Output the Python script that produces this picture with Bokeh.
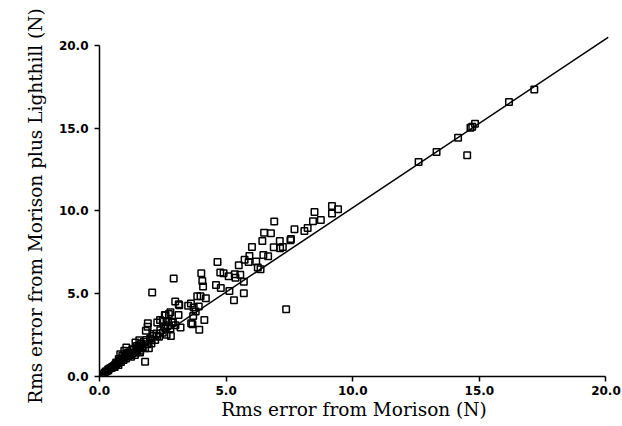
from bokeh.plotting import figure
from bokeh.models import Range1d, FixedTicker, ColumnDataSource
from bokeh.embed import file_html
from bokeh.resources import INLINE

# Rms error from Morison (N)
morison = [17.17, 16.17, 14.83, 14.72, 14.65, 14.16, 13.31, 12.60, 14.52,
           9.18, 9.42, 9.18, 8.49, 8.43, 8.74, 8.22, 8.09, 7.70, 6.90, 6.50,
           6.77, 6.43, 7.12, 7.56, 7.54, 7.24, 7.13, 6.88, 6.66, 6.47, 6.02,
           5.92, 5.73, 5.89, 6.19, 6.25, 6.36, 5.50, 4.66, 4.77, 4.90, 5.10,
           5.34, 5.56, 5.37, 5.70, 5.70, 5.13, 5.31, 4.60, 4.79, 4.02, 4.06,
           4.09, 3.86, 3.99, 4.20, 4.14, 3.94, 7.37, 2.93, 2.08, 2.99, 3.15,
           3.61, 3.50, 3.72, 3.92, 3.80, 3.70, 3.62, 3.67, 3.12, 3.20, 2.80,
           2.61, 2.50, 2.39, 2.28, 2.71, 2.90, 2.82, 2.65, 1.91, 1.90, 1.83,
           2.14, 2.27, 2.05, 1.95, 1.80, 1.70, 1.61, 1.57, 1.42, 1.48, 1.29,
           1.13, 0.98, 0.90, 0.76, 0.66, 0.58, 0.47, 0.31, 0.16, 1.61, 1.45,
           1.21, 1.06, 0.82, 0.66, 0.50, 0.35,
           0.10, 0.20, 0.25, 0.35, 0.42, 0.50, 0.55, 0.60, 0.62, 0.70, 0.75,
           0.80, 0.85, 0.90, 0.95, 1.00, 1.05, 1.10, 1.15, 1.20, 1.25, 1.30,
           1.35, 1.40, 1.45, 1.50, 1.55, 1.60, 1.65, 1.70, 1.75, 1.80, 1.85,
           1.90, 2.00, 2.05, 2.10, 2.20, 2.25, 2.35, 2.40, 2.50, 2.55, 2.60,
           2.70, 2.80, 2.85, 3.00, 2.58, 2.74, 3.13]
# Rms error from Morison plus Lighthill (N)
lighthill = [17.34, 16.58, 15.27, 15.09, 15.03, 14.43, 13.56, 12.96, 13.36,
             10.30, 10.10, 9.84, 9.94, 9.38, 9.46, 8.97, 8.79, 8.89, 9.36, 8.69,
             8.65, 8.19, 8.19, 8.31, 8.23, 7.83, 7.75, 7.81, 7.26, 7.34, 7.83,
             7.28, 7.06, 6.92, 6.94, 6.58, 6.48, 6.72, 6.92, 6.28, 6.24, 6.06,
             6.18, 6.14, 5.96, 5.73, 5.03, 5.17, 4.61, 5.53, 5.35, 6.24, 5.77,
             5.43, 4.85, 4.85, 4.73, 3.42, 2.82, 4.06, 5.92, 5.07, 4.53, 4.31,
             4.41, 4.27, 4.17, 4.23, 3.92, 3.66, 3.22, 3.16, 3.72, 2.96, 3.88,
             3.70, 3.36, 3.42, 3.26, 3.34, 3.26, 2.45, 2.52, 3.22, 3.00, 2.76,
             2.56, 2.45, 2.19, 1.71, 0.89, 1.75, 1.95, 2.19, 2.05, 1.85, 1.65,
             1.45, 1.55, 1.25, 1.05, 0.85, 0.64, 0.54, 0.34, 0.14, 1.55, 1.45,
             1.35, 1.75, 1.35, 0.74, 0.54, 0.44,
             0.08, 0.22, 0.30, 0.38, 0.50, 0.55, 0.62, 0.58, 0.72, 0.80, 0.70,
             0.95, 0.88, 1.10, 1.00, 1.20, 1.08, 1.30, 1.25, 1.45, 1.20, 1.40,
             1.60, 1.30, 1.70, 1.55, 1.80, 1.45, 2.00, 1.85, 2.10, 1.70, 2.20,
             1.95, 2.30, 2.00, 2.45, 2.20, 2.60, 2.40, 2.80, 2.65, 3.00, 2.90,
             3.10, 2.90, 3.30, 3.10, 3.72, 3.77, 4.37]

fit_x = [0.0, 20.1]
fit_y = [0.0, 20.5]
ticks = [0, 5, 10, 15, 20]
tick_labels = {0: "0.0", 5: "5.0", 10: "10.0", 15: "15.0", 20: "20.0"}

p = figure(frame_width=509, frame_height=341, output_backend="svg",
           toolbar_location=None, x_range=Range1d(0, 20.1),
           y_range=Range1d(0, 20.6), min_border_left=99, min_border_right=14,
           min_border_top=35, min_border_bottom=50)
p.grid.visible = False
p.outline_line_color = None
p.background_fill_color = "white"
p.border_fill_color = "white"

p.line(fit_x, fit_y, line_color="black", line_width=1.5)
src = ColumnDataSource(dict(x=morison, y=lighthill))
p.scatter("x", "y", source=src, marker="square", size=6.5,
          line_color="black", line_width=1.5, fill_alpha=0)

for ax in (p.xaxis[0], p.yaxis[0]):
    ax.ticker = FixedTicker(ticks=ticks)
    ax.major_label_overrides = tick_labels
    ax.bounds = (0, 20)
    ax.axis_line_width = 1.5
    ax.axis_line_color = "black"
    ax.major_tick_line_color = "black"
    ax.major_tick_line_width = 1.5
    ax.major_tick_out = 5
    ax.major_tick_in = 0
    ax.minor_tick_line_color = None
    ax.major_label_text_font = "DejaVu Sans"
    ax.major_label_text_font_style = "bold"
    ax.major_label_text_font_size = "12px"
    ax.major_label_text_color = "black"
    ax.axis_label_text_font = "DejaVu Serif"
    ax.axis_label_text_font_style = "normal"
    ax.axis_label_text_font_size = "18.5px"
    ax.axis_label_text_color = "black"

p.xaxis.axis_label = "Rms error from Morison (N)"
p.yaxis.axis_label = "Rms error from Morison plus Lighthill (N)"
p.xaxis.major_label_standoff = 4
p.xaxis.axis_label_standoff = 1
p.yaxis.major_label_standoff = 6
p.yaxis.axis_label_standoff = 10

open("out.html", "w").write(file_html(p, INLINE))
